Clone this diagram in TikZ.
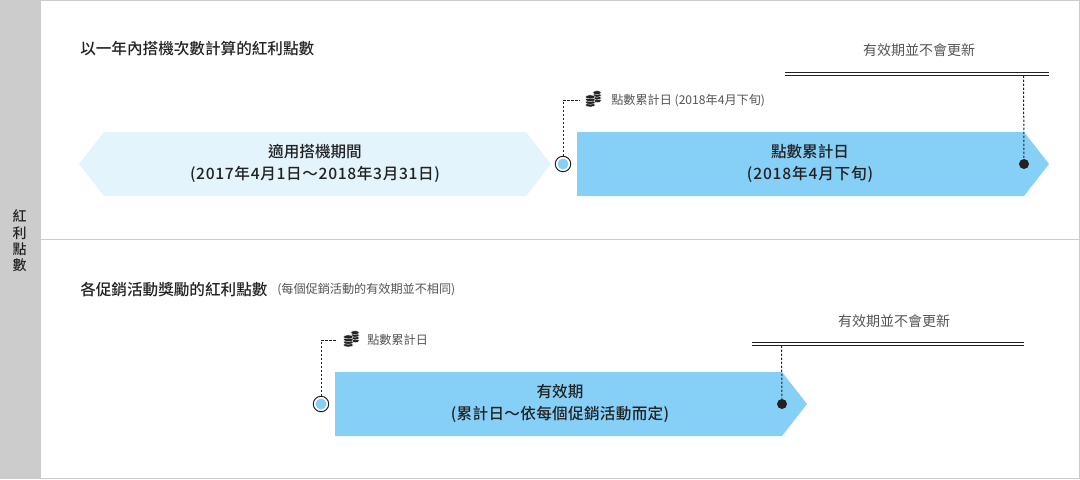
\documentclass[tikz,border=0pt]{standalone}
\usepackage{fontspec}
\setmainfont{Noto Sans CJK TC}[BoldFont={Noto Sans CJK TC Medium}]
\usetikzlibrary{calc}
\AtBeginDocument{\lineskiplimit=-20pt\relax\normallineskiplimit=-20pt\relax}
\definecolor{sidegray}{HTML}{CCCCCC}
\definecolor{linegray}{HTML}{CCCCCC}
\definecolor{palebar}{HTML}{E3F4FD}
\definecolor{bluebar}{HTML}{86D0F8}
\definecolor{ink}{HTML}{222222}
\definecolor{soft}{HTML}{555555}
\newcommand{\coins}[1]{%
  \begin{scope}[shift={(#1)}]
    \foreach \yy in {1.8,-1,-3.7,-6.4}{\filldraw[fill=ink,draw=white,line width=0.3pt] (3.5,\yy) ellipse [x radius=4.3,y radius=1.9];}
    \foreach \yy in {6,3.3,0.6,-2.1}{\filldraw[fill=ink,draw=white,line width=0.3pt] (-3.2,\yy) ellipse [x radius=5,y radius=2];}
  \end{scope}}
\newcommand{\spaced}[2]{{\addfontfeatures{LetterSpace=#1}#2}}
\tikzset{
  x=0.75pt,y=-0.75pt,
  headtext/.style={inner sep=0pt,anchor=west,text=ink,font=\fontsize{11.7pt}{13pt}\selectfont\bfseries},
  bartext/.style={inner sep=0pt,align=center,text=ink,font=\fontsize{11.7pt}{16.4pt}\selectfont\bfseries},
  sidetext/.style={inner sep=0pt,align=center,text=ink,font=\fontsize{10.5pt}{12.2pt}\selectfont\bfseries},
  notetext/.style={inner sep=0pt,text=soft,font=\fontsize{10.5pt}{12pt}\selectfont},
  smalltext/.style={inner sep=0pt,anchor=west,text=soft,font=\fontsize{9.1pt}{11pt}\selectfont},
  ringdot/.style={circle,draw=ink,line width=0.75pt,fill=white,minimum size=11.6pt,inner sep=0pt},
  blackdot/.style={circle,fill=ink,minimum size=7.5pt,inner sep=0pt},
  leader/.style={draw=ink,line width=0.75pt,dash pattern=on 1.7pt off 1.3pt},
  rail/.style={draw=ink,line width=0.75pt},
  frameline/.style={draw=linegray,line width=0.75pt},
}
\begin{document}
\begin{tikzpicture}
\useasboundingbox (0,0) rectangle (1080,479);
\fill[white] (0,0) rectangle (1080,479);
\fill[sidegray] (0,0) rectangle (41,479);
\draw[frameline] (41,0.5) -- (1079.5,0.5) -- (1079.5,478.5) -- (41,478.5);
\draw[frameline] (41,239.5) -- (1079.5,239.5);
\node[sidetext] (side) at (19.5,241) {紅\\利\\點\\數};

% top row
\node[headtext] (head1) at (80,48.5) {以一年內搭機次數計算的紅利點數};
\fill[palebar] (104,132) -- (526,132) -- (551,164) -- (526,196) -- (104,196) -- (79,164) -- cycle;
\node[bartext] (bar1a) at (315,163.5) {適用搭機期間\\\spaced{4.3}{(2017年4月1日～2018年3月31日)}};
\fill[bluebar] (577,132) -- (1024,132) -- (1049,164) -- (1024,196) -- (577,196) -- cycle;
\node[bartext] (bar1b) at (810,163.5) {點數累計日\\\spaced{5.2}{(2018年4月下旬)}};
\node[ringdot] (ring1) at (563,164) {};
\fill[bluebar] (ring1) circle (5.5);
\coordinate (turn1) at (563,100);
\coordinate (free1) at (580,100);
\draw[leader] (ring1) -- (turn1) -- (free1);
\coins{593.5,99}
\node[smalltext] (note1) at (611,100.7) {點數累計日 (2018年4月下旬)};
\node[notetext] (valid1) at (919,50) {有效期並不會更新};
\coordinate (r1a) at (785,72.5); \coordinate (r1b) at (1049,72.5);
\coordinate (r1c) at (785,75.5); \coordinate (r1d) at (1049,75.5);
\draw[rail] (r1a) -- (r1b); \draw[rail] (r1c) -- (r1d);
\node[blackdot] (dot1) at (1024,164) {};
\coordinate (top1) at (1023.5,75.5);
\draw[leader] (top1) -- (dot1);

% bottom row
\node[headtext] (head2) at (80,289.5) {各促銷活動獎勵的紅利點數};
\node[smalltext] (head2b) at (277,290) {(每個促銷活動的有效期並不相同)};
\fill[bluebar] (335,372) -- (782,372) -- (807,404) -- (782,436) -- (335,436) -- cycle;
\node[bartext] (bar2) at (560,403.5) {有效期\\\spaced{2}{(累計日～依每個促銷活動而定)}};
\node[ringdot] (ring2) at (321,404) {};
\fill[bluebar] (ring2) circle (5.5);
\coordinate (turn2) at (321,340);
\coordinate (free2) at (337,340);
\draw[leader] (ring2) -- (turn2) -- (free2);
\coins{351.5,339}
\node[smalltext] (note2) at (367,340) {點數累計日};
\node[notetext] (valid2) at (894,321) {有效期並不會更新};
\coordinate (r2a) at (752,342.5); \coordinate (r2b) at (1024,342.5);
\coordinate (r2c) at (752,345.5); \coordinate (r2d) at (1024,345.5);
\draw[rail] (r2a) -- (r2b); \draw[rail] (r2c) -- (r2d);
\node[blackdot] (dot2) at (782,404) {};
\coordinate (top2) at (781.5,345.5);
\draw[leader] (top2) -- (dot2);
\end{tikzpicture}
\end{document}
